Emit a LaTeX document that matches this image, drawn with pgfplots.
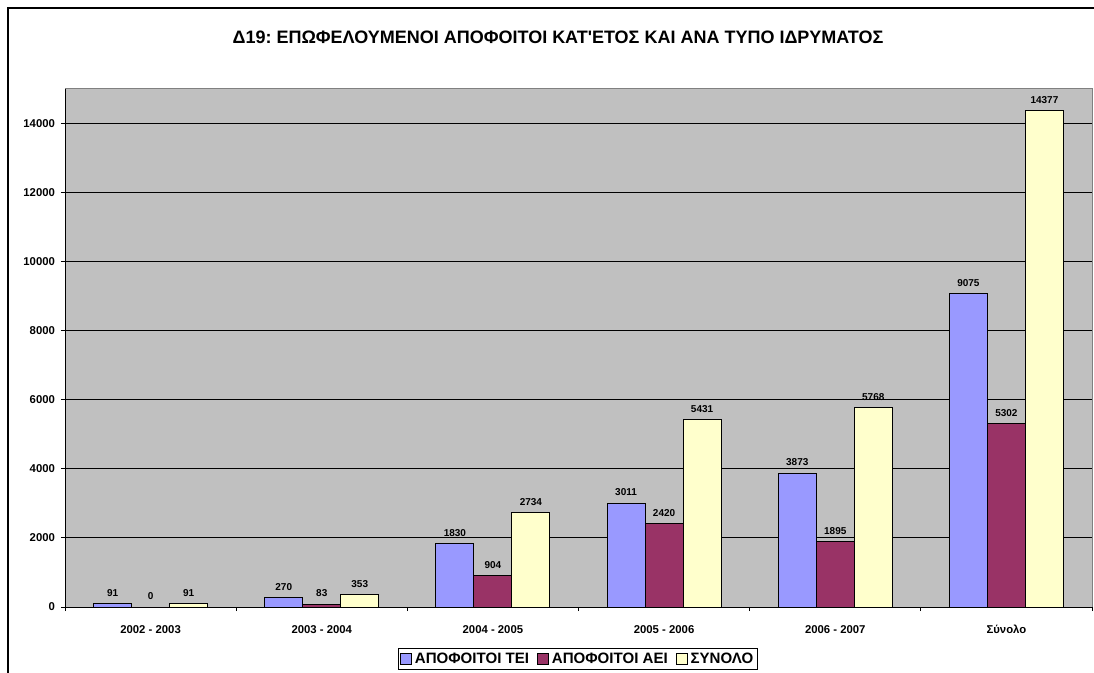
\documentclass[border=0pt]{standalone}
\usepackage{fontspec}
\setmainfont{Liberation Sans}
\newfontfamily\plainfont{Liberation Sans}
\usepackage{pgfplots}
\pgfplotsset{compat=1.18}
\definecolor{plotgray}{HTML}{C0C0C0}
\definecolor{tei}{HTML}{9999FF}
\definecolor{aei}{HTML}{993366}
\definecolor{syn}{HTML}{FFFFCC}
\definecolor{bordergray}{HTML}{808080}
\frenchspacing
\begin{document}
\begin{tikzpicture}
\useasboundingbox (-48.75pt,-48.75pt) rectangle (771.75pt,455.25pt);
\fill[white] (-48.75pt,-48.75pt) rectangle (771.75pt,455.25pt);
\draw[black, line width=1.5pt] (-42.75pt,-60pt) -- (-42.75pt,449.25pt) -- (800pt,449.25pt);
\node[font=\plainfont\bfseries\fontsize{13.5}{16}\selectfont] at (369.75pt,427.5pt) {Δ19: ΕΠΩΦΕΛΟΥΜΕΝΟΙ ΑΠΟΦΟΙΤΟΙ ΚΑΤ'ΕΤΟΣ ΚΑΙ ΑΝΑ ΤΥΠΟ ΙΔΡΥΜΑΤΟΣ};
\begin{axis}[
  at={(0,0)}, anchor=south west,
  scale only axis, width=770.25pt, height=388.5pt,
  ybar, bar width=28.5pt,
  xmin=-0.5, xmax=5.5, ymin=0, ymax=15000,
  axis background/.style={fill=plotgray},
  axis x line*=bottom, axis y line*=left,
  axis line style={black, line width=0.75pt},
  xtick={0,...,5},
  xticklabels={2002 - 2003, 2003 - 2004, 2004 - 2005, 2005 - 2006, 2006 - 2007, Σύνολο},
  major x tick style={draw=none},
  minor xtick={-0.5,0.5,...,5.5},
  minor tick length=3pt,
  minor x tick style={black, line width=0.75pt},
  ytick={0,2000,...,14000},
  scaled y ticks=false,
  major tick length=3pt,
  y tick style={black, line width=0.75pt},
  tick align=outside,
  ymajorgrids, grid style={black, line width=0.75pt},
  /pgf/number format/assume math mode=true,
  /pgf/number format/1000 sep={},
  ticklabel style={font=\bfseries\fontsize{8.5}{10}\selectfont},
  xticklabel style={yshift=-6pt, text height=7pt, text depth=2pt},
  yticklabel style={xshift=-1pt},
  nodes near coords,
  nodes near coords style={font=\bfseries\fontsize{7.5}{9}\selectfont, anchor=base, yshift=5.5pt},
  legend style={at={(0.4995,-0.1004)}, anchor=center, legend columns=-1, draw=black, line width=0.75pt,
    font=\bfseries\fontsize{11.3}{13}\selectfont, inner sep=1.5pt,
    /tikz/every even column/.append style={column sep=4pt}},
  legend image code/.code={\draw[#1, line width=0.6pt] (0pt,-4pt) rectangle (8.5pt,4.5pt);},
  clip=false,
]
\draw[bordergray, line width=0.75pt] (rel axis cs:0,1) -- (rel axis cs:1,1) -- (rel axis cs:1,0);
\addplot[fill=tei, draw=black, line width=0.75pt, bar shift=-28.5pt] coordinates {(0,91) (1,270) (2,1830) (3,3011) (4,3873) (5,9075)};
\addplot[fill=aei, draw=black, line width=0.75pt, bar shift=0pt] coordinates {(0,0) (1,83) (2,904) (3,2420) (4,1895) (5,5302)};
\addplot[fill=syn, draw=black, line width=0.75pt, bar shift=28.5pt] coordinates {(0,91) (1,353) (2,2734) (3,5431) (4,5768) (5,14377)};
\legend{ΑΠΟΦΟΙΤΟΙ ΤΕΙ, ΑΠΟΦΟΙΤΟΙ ΑΕΙ, ΣΥΝΟΛΟ}
\end{axis}
\end{tikzpicture}
\end{document}
